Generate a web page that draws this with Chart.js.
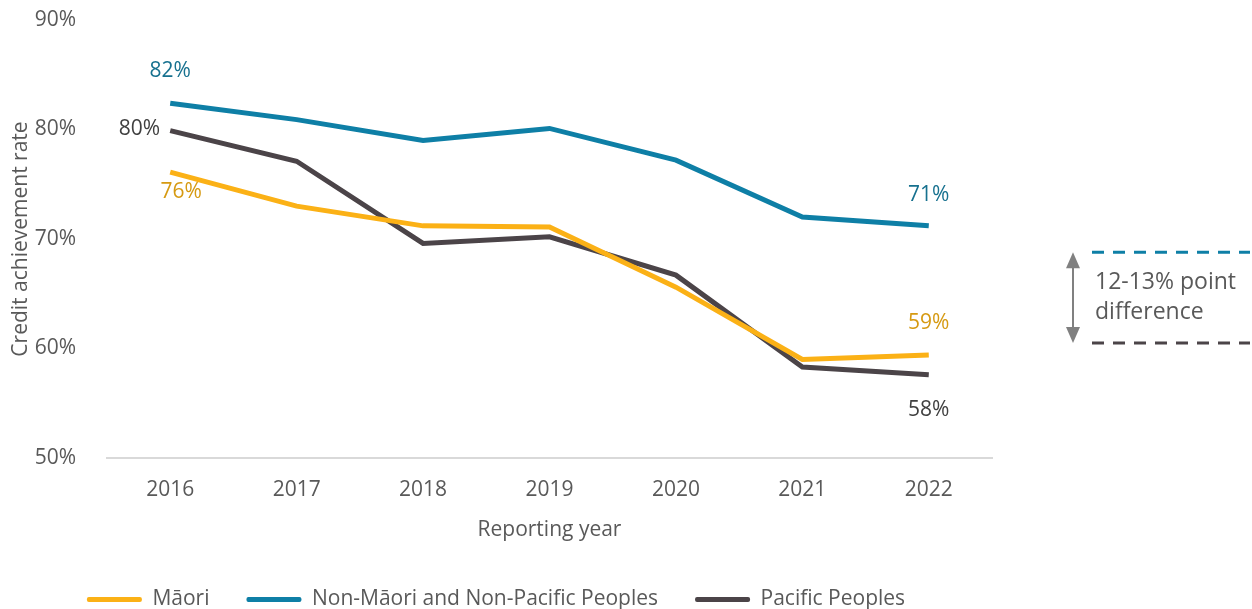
<!DOCTYPE html>
<html>
<head>
<meta charset="utf-8">
<script src="https://cdn.jsdelivr.net/npm/chart.js@4"></script>
<style>
  html, body { margin: 0; padding: 0; background: #fff; }
  #wrap { width: 1252px; height: 609px; overflow: hidden; position: relative; }
  #caja { width: 1252px; height: 620px; position: relative; }
</style>
</head>
<body>
<div id="wrap"><div id="caja"><canvas id="grafica"></canvas></div></div>
<script>
// datos
var years = ["2016", "2017", "2018", "2019", "2020", "2021", "2022"];
var maori = [76.1, 73.0, 71.2, 71.1, 65.6, 59.0, 59.4];
var nonMaori = [82.4, 80.9, 79.0, 80.1, 77.2, 72.0, 71.2];
var pacific = [79.9, 77.1, 69.6, 70.2, 66.7, 58.3, 57.6];
var yTicks = [50, 60, 70, 80, 90];

var gris = "#595959";
var fuente = "'Open Sans', sans-serif";

// etiquetas sobre el primer y ultimo punto
var etiquetas = [
  [{i: 0, dx: 11, dy: 20, color: "#D69A12"}, {i: 6, dx: 0, dy: -32, color: "#D69A12"}],
  [{i: 0, dx: 0, dy: -32, color: "#17718F"}, {i: 6, dx: 0, dy: -31, color: "#17718F"}],
  [{i: 0, dx: -10, dy: -2, color: "#404040", align: "right"}, {i: 6, dx: 0, dy: 35, color: "#404040"}]
];

var pluginEtiquetas = {
  id: "etiquetas",
  afterDatasetsDraw: function(chart){
    var ctx = chart.ctx;
    ctx.save();
    ctx.font = "21px " + fuente;
    ctx.textBaseline = "middle";
    chart.data.datasets.forEach(function(ds, d){
      var meta = chart.getDatasetMeta(d);
      etiquetas[d].forEach(function(e){
        var p = meta.data[e.i];
        ctx.fillStyle = e.color;
        ctx.textAlign = e.align || "center";
        ctx.fillText(Math.round(ds.data[e.i]) + "%", p.x + e.dx, p.y + e.dy);
      });
    });
    ctx.restore();
  }
};

// anotacion de la derecha (diferencia de 12-13 puntos)
var pluginNota = {
  id: "nota",
  afterDraw: function(chart){
    var ctx = chart.ctx;
    var y = chart.scales.y;
    var yTop = y.getPixelForValue(68.8);
    var yBot = y.getPixelForValue(60.5);
    var xa = 1073;
    ctx.save();
    ctx.lineWidth = 3;
    ctx.setLineDash([12, 9]);
    ctx.strokeStyle = "#0E7FA6";
    ctx.beginPath(); ctx.moveTo(1092, yTop); ctx.lineTo(1250, yTop); ctx.stroke();
    ctx.strokeStyle = "#4B4448";
    ctx.beginPath(); ctx.moveTo(1092, yBot); ctx.lineTo(1250, yBot); ctx.stroke();
    ctx.setLineDash([]);
    ctx.strokeStyle = "#808080";
    ctx.fillStyle = "#808080";
    ctx.lineWidth = 2;
    ctx.beginPath(); ctx.moveTo(xa, yTop + 12); ctx.lineTo(xa, yBot - 12); ctx.stroke();
    ctx.beginPath(); ctx.moveTo(xa, yTop); ctx.lineTo(xa - 7, yTop + 16); ctx.lineTo(xa + 7, yTop + 16); ctx.fill();
    ctx.beginPath(); ctx.moveTo(xa, yBot); ctx.lineTo(xa - 7, yBot - 16); ctx.lineTo(xa + 7, yBot - 16); ctx.fill();
    ctx.fillStyle = gris;
    ctx.font = "23px " + fuente;
    ctx.textBaseline = "middle";
    ctx.textAlign = "left";
    ctx.fillText("12-13% point", 1095, yTop + 30);
    ctx.fillText("difference", 1095, yTop + 60);
    ctx.restore();
  }
};

function serie(label, data, color){
  return {
    label: label,
    data: data,
    borderColor: color,
    backgroundColor: color,
    borderWidth: 5,
    pointRadius: 0,
    tension: 0,
    fill: false
  };
}

var config = {
  type: "line",
  data: {
    labels: years,
    datasets: [
      serie("Māori", maori, "#FBB116"),
      serie("Non-Māori and Non-Pacific Peoples", nonMaori, "#0E7FA6"),
      serie("Pacific Peoples", pacific, "#4B4448")
    ]
  },
  options: {
    responsive: true,
    maintainAspectRatio: false,
    animation: false,
    layout: { padding: { top: 0, right: 260, bottom: 0, left: 0 } },
    plugins: {
      tooltip: { enabled: false },
      legend: {
        position: "bottom",
        labels: {
          color: gris,
          font: { size: 21, family: fuente },
          boxWidth: 55,
          boxHeight: 5,
          padding: 37,
          useBorderRadius: true,
          borderRadius: 2,
          generateLabels: function(chart){
            var items = Chart.defaults.plugins.legend.labels.generateLabels(chart);
            items.forEach(function(it){ it.lineWidth = 0; });
            return items;
          }
        }
      }
    },
    scales: {
      x: {
        offset: true,
        grid: { display: false },
        border: { display: true, color: "#D9D9D9", width: 2 },
        ticks: { color: gris, font: { size: 21, family: fuente }, padding: 11, maxRotation: 0 },
        title: { display: true, text: "Reporting year", color: gris, font: { size: 21, family: fuente }, padding: { top: 0, bottom: 9 } },
        afterFit: function(s){ s.height = 94; }
      },
      y: {
        min: 50,
        max: 90,
        afterBuildTicks: function(s){ s.ticks = yTicks.map(function(v){ return {value: v}; }); },
        grid: { display: false },
        border: { display: false },
        ticks: {
          color: gris,
          font: { size: 21, family: fuente },
          padding: 23,
          callback: function(v){ return v + "%"; }
        },
        title: { display: true, text: "Credit achievement rate", color: gris, font: { size: 21, family: fuente }, padding: { top: 8, bottom: 0 } },
        afterFit: function(s){
          s.width = 107;
          s.paddingTop = 20;
          s.paddingBottom = 0;
        }
      }
    }
  },
  plugins: [pluginEtiquetas, pluginNota]
};

var contenedor = document.getElementById("grafica").getContext("2d");
var grafica = new Chart(contenedor, config);
</script>
</body>
</html>
